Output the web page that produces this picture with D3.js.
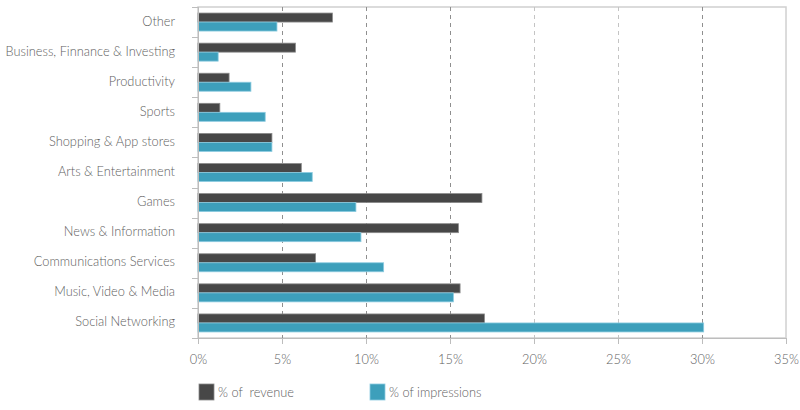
<!DOCTYPE html>
<html><head><meta charset="utf-8">
<script src="https://cdn.jsdelivr.net/npm/d3@7"></script>
<style>
body{margin:0;background:#fff;}
text{font-family:Lato,"Open Sans",sans-serif;font-weight:300;white-space:pre;}
</style></head>
<body>
<svg id="c" width="800" height="410"></svg>
<script>
const categories = ["Other","Business, Finnance & Investing","Productivity","Sports","Shopping & App stores","Arts & Entertainment","Games","News & Information","Communications Services","Music, Video & Media","Social Networking"];
const revenue = [8.0, 5.8, 1.85, 1.3, 4.4, 6.15, 16.9, 15.5, 7.0, 15.6, 17.05];
const impressions = [4.7, 1.2, 3.15, 4.0, 4.4, 6.8, 9.4, 9.7, 11.05, 15.2, 30.1];
const xTicks = [0,5,10,15,20,25,30,35];
const seriesNames = ["% of  revenue","% of impressions"];
const colors = ["#474747","#3d9fbb"];
const strokes = ["#8a8a8a","#8ccbe0"];

const svg = d3.select("#c");
const L=198, R=786, T=7, B=338;
const x = d3.scaleLinear().domain([0,35]).range([L,R]);
const y = d3.scaleBand().domain(categories).range([T,B]).paddingInner(0).paddingOuter(0);
const barH = 9;

// frame
svg.append("rect").attr("x",L).attr("y",T).attr("width",R-L).attr("height",B-T)
  .attr("fill","none").attr("stroke","#d0d0d0").attr("stroke-width",1.5);

// gridlines
svg.append("g").selectAll("line").data(xTicks.filter(d=>d>0&&d<35)).join("line")
  .attr("x1",d=>Math.round(x(d))+0.5).attr("x2",d=>Math.round(x(d))+0.5)
  .attr("y1",T).attr("y2",B)
  .attr("stroke",d=>(d===20||d===25)?"#c4c4c4":"#8f8f8f").attr("stroke-dasharray","4,4").attr("stroke-width",1);

// bars
const g = svg.append("g");
categories.forEach((c,i)=>{
  const yc = y(c) + y.bandwidth()/2;
  [revenue[i], impressions[i]].forEach((v,k)=>{
    g.append("rect")
      .attr("x",x(0)).attr("y",yc - barH + k*barH)
      .attr("width",x(v)-x(0)).attr("height",barH)
      .attr("fill",colors[k]).attr("stroke",strokes[k]).attr("stroke-width",0.8);
  });
});

// y axis
const yAxis = svg.append("g").attr("transform",`translate(${L},0)`);
yAxis.append("line").attr("x1",0.5).attr("x2",0.5).attr("y1",T).attr("y2",B+6).attr("stroke","#bdbdbd");
yAxis.selectAll("line.tk").data(d3.range(categories.length+1)).join("line").attr("class","tk")
  .attr("x1",-6).attr("x2",0).attr("y1",i=>Math.round(T+i*y.step())+0.5).attr("y2",i=>Math.round(T+i*y.step())+0.5)
  .attr("stroke","#bdbdbd");
yAxis.selectAll("text").data(categories).join("text")
  .attr("x",-23).attr("y",d=>y(d)+y.bandwidth()/2-1).attr("dy","0.35em")
  .attr("text-anchor","end").attr("font-size",12.8).attr("fill","#606060").text(d=>d);

// x axis
const xAxis = svg.append("g").attr("transform",`translate(0,${B})`)
  .call(d3.axisBottom(x).tickValues(xTicks).tickFormat(d=>d+"%").tickSize(6).tickPadding(11));
xAxis.select(".domain").attr("stroke","#bdbdbd");
xAxis.selectAll(".tick line").attr("stroke","#bdbdbd");
xAxis.selectAll("text").attr("font-size",12.8).attr("fill","#606060").attr("font-family","Lato, sans-serif");

// legend
const leg = svg.append("g");
const legX = [199, 370];
seriesNames.forEach((n,k)=>{
  leg.append("rect").attr("x",legX[k]).attr("y",384).attr("width",15).attr("height",16)
    .attr("fill",colors[k]).attr("stroke",strokes[k]).attr("stroke-width",0.8);
  leg.append("text").attr("x",legX[k]+19).attr("y",393).attr("dy","0.35em")
    .attr("font-size",12.8).attr("fill","#606060").text(n);
});
</script>
</body></html>
